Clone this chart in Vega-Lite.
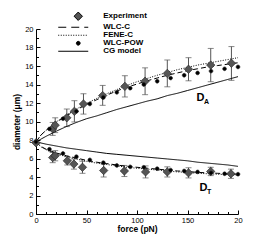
{
  "$schema": "https://vega.github.io/schema/vega-lite/v6.json",
  "width": 202,
  "height": 185,
  "autosize": {"type": "none"},
  "padding": {"left": 36, "top": 29, "right": 33, "bottom": 27},
  "background": "white",
  "config": {
    "view": {"stroke": null},
    "font": "Liberation Sans",
    "axis": {"grid": false, "domainColor": "black", "tickColor": "black", "labelColor": "black", "titleColor": "black", "labelFont": "Liberation Sans", "titleFont": "Liberation Sans"}
  },
  "resolve": {"axis": {"x": "independent", "y": "independent"}},
  "datasets": {
    "curves": [
      {"series": "WLC-C", "branch": "A", "f": 0, "d": 7.8},
      {"series": "WLC-C", "branch": "A", "f": 5, "d": 8.55},
      {"series": "WLC-C", "branch": "A", "f": 10, "d": 9.05},
      {"series": "WLC-C", "branch": "A", "f": 20, "d": 9.9},
      {"series": "WLC-C", "branch": "A", "f": 30, "d": 10.6},
      {"series": "WLC-C", "branch": "A", "f": 40, "d": 11.25},
      {"series": "WLC-C", "branch": "A", "f": 50, "d": 11.85},
      {"series": "WLC-C", "branch": "A", "f": 60, "d": 12.35},
      {"series": "WLC-C", "branch": "A", "f": 70, "d": 12.85},
      {"series": "WLC-C", "branch": "A", "f": 80, "d": 13.3},
      {"series": "WLC-C", "branch": "A", "f": 90, "d": 13.7},
      {"series": "WLC-C", "branch": "A", "f": 100, "d": 14.05},
      {"series": "WLC-C", "branch": "A", "f": 110, "d": 14.4},
      {"series": "WLC-C", "branch": "A", "f": 120, "d": 14.7},
      {"series": "WLC-C", "branch": "A", "f": 130, "d": 15.0},
      {"series": "WLC-C", "branch": "A", "f": 140, "d": 15.25},
      {"series": "WLC-C", "branch": "A", "f": 150, "d": 15.5},
      {"series": "WLC-C", "branch": "A", "f": 160, "d": 15.7},
      {"series": "WLC-C", "branch": "A", "f": 170, "d": 15.9},
      {"series": "WLC-C", "branch": "A", "f": 180, "d": 16.05},
      {"series": "WLC-C", "branch": "A", "f": 190, "d": 16.2},
      {"series": "WLC-C", "branch": "A", "f": 200, "d": 16.35},
      {"series": "FENE-C", "branch": "A", "f": 0, "d": 7.8},
      {"series": "FENE-C", "branch": "A", "f": 5, "d": 8.55},
      {"series": "FENE-C", "branch": "A", "f": 10, "d": 9.05},
      {"series": "FENE-C", "branch": "A", "f": 20, "d": 9.95},
      {"series": "FENE-C", "branch": "A", "f": 30, "d": 10.7},
      {"series": "FENE-C", "branch": "A", "f": 40, "d": 11.35},
      {"series": "FENE-C", "branch": "A", "f": 50, "d": 11.95},
      {"series": "FENE-C", "branch": "A", "f": 60, "d": 12.5},
      {"series": "FENE-C", "branch": "A", "f": 70, "d": 13.0},
      {"series": "FENE-C", "branch": "A", "f": 80, "d": 13.45},
      {"series": "FENE-C", "branch": "A", "f": 90, "d": 13.9},
      {"series": "FENE-C", "branch": "A", "f": 100, "d": 14.3},
      {"series": "FENE-C", "branch": "A", "f": 110, "d": 14.65},
      {"series": "FENE-C", "branch": "A", "f": 120, "d": 15.0},
      {"series": "FENE-C", "branch": "A", "f": 130, "d": 15.3},
      {"series": "FENE-C", "branch": "A", "f": 140, "d": 15.6},
      {"series": "FENE-C", "branch": "A", "f": 150, "d": 15.85},
      {"series": "FENE-C", "branch": "A", "f": 160, "d": 16.1},
      {"series": "FENE-C", "branch": "A", "f": 170, "d": 16.3},
      {"series": "FENE-C", "branch": "A", "f": 180, "d": 16.5},
      {"series": "FENE-C", "branch": "A", "f": 190, "d": 16.7},
      {"series": "FENE-C", "branch": "A", "f": 200, "d": 16.9},
      {"series": "CG model", "branch": "A", "f": 0, "d": 7.8},
      {"series": "CG model", "branch": "A", "f": 10, "d": 8.4},
      {"series": "CG model", "branch": "A", "f": 20, "d": 8.95},
      {"series": "CG model", "branch": "A", "f": 30, "d": 9.45},
      {"series": "CG model", "branch": "A", "f": 40, "d": 9.9},
      {"series": "CG model", "branch": "A", "f": 50, "d": 10.3},
      {"series": "CG model", "branch": "A", "f": 60, "d": 10.6},
      {"series": "CG model", "branch": "A", "f": 70, "d": 10.95},
      {"series": "CG model", "branch": "A", "f": 80, "d": 11.3},
      {"series": "CG model", "branch": "A", "f": 90, "d": 11.6},
      {"series": "CG model", "branch": "A", "f": 100, "d": 11.9},
      {"series": "CG model", "branch": "A", "f": 110, "d": 12.2},
      {"series": "CG model", "branch": "A", "f": 120, "d": 12.45},
      {"series": "CG model", "branch": "A", "f": 130, "d": 12.8},
      {"series": "CG model", "branch": "A", "f": 140, "d": 13.05},
      {"series": "CG model", "branch": "A", "f": 150, "d": 13.35},
      {"series": "CG model", "branch": "A", "f": 160, "d": 13.65},
      {"series": "CG model", "branch": "A", "f": 170, "d": 13.95},
      {"series": "CG model", "branch": "A", "f": 180, "d": 14.25},
      {"series": "CG model", "branch": "A", "f": 190, "d": 14.55},
      {"series": "CG model", "branch": "A", "f": 200, "d": 14.85},
      {"series": "WLC-C", "branch": "T", "f": 0, "d": 7.8},
      {"series": "WLC-C", "branch": "T", "f": 5, "d": 7.3},
      {"series": "WLC-C", "branch": "T", "f": 10, "d": 7.0},
      {"series": "WLC-C", "branch": "T", "f": 20, "d": 6.6},
      {"series": "WLC-C", "branch": "T", "f": 30, "d": 6.3},
      {"series": "WLC-C", "branch": "T", "f": 40, "d": 6.05},
      {"series": "WLC-C", "branch": "T", "f": 50, "d": 5.8},
      {"series": "WLC-C", "branch": "T", "f": 60, "d": 5.6},
      {"series": "WLC-C", "branch": "T", "f": 70, "d": 5.45},
      {"series": "WLC-C", "branch": "T", "f": 80, "d": 5.3},
      {"series": "WLC-C", "branch": "T", "f": 90, "d": 5.15},
      {"series": "WLC-C", "branch": "T", "f": 100, "d": 5.05},
      {"series": "WLC-C", "branch": "T", "f": 110, "d": 4.95},
      {"series": "WLC-C", "branch": "T", "f": 120, "d": 4.85},
      {"series": "WLC-C", "branch": "T", "f": 130, "d": 4.75},
      {"series": "WLC-C", "branch": "T", "f": 140, "d": 4.65},
      {"series": "WLC-C", "branch": "T", "f": 150, "d": 4.6},
      {"series": "WLC-C", "branch": "T", "f": 160, "d": 4.5},
      {"series": "WLC-C", "branch": "T", "f": 170, "d": 4.45},
      {"series": "WLC-C", "branch": "T", "f": 180, "d": 4.4},
      {"series": "WLC-C", "branch": "T", "f": 190, "d": 4.35},
      {"series": "WLC-C", "branch": "T", "f": 200, "d": 4.3},
      {"series": "FENE-C", "branch": "T", "f": 0, "d": 7.8},
      {"series": "FENE-C", "branch": "T", "f": 5, "d": 7.25},
      {"series": "FENE-C", "branch": "T", "f": 10, "d": 6.95},
      {"series": "FENE-C", "branch": "T", "f": 20, "d": 6.5},
      {"series": "FENE-C", "branch": "T", "f": 30, "d": 6.2},
      {"series": "FENE-C", "branch": "T", "f": 40, "d": 5.95},
      {"series": "FENE-C", "branch": "T", "f": 50, "d": 5.7},
      {"series": "FENE-C", "branch": "T", "f": 60, "d": 5.5},
      {"series": "FENE-C", "branch": "T", "f": 70, "d": 5.35},
      {"series": "FENE-C", "branch": "T", "f": 80, "d": 5.2},
      {"series": "FENE-C", "branch": "T", "f": 90, "d": 5.05},
      {"series": "FENE-C", "branch": "T", "f": 100, "d": 4.95},
      {"series": "FENE-C", "branch": "T", "f": 110, "d": 4.85},
      {"series": "FENE-C", "branch": "T", "f": 120, "d": 4.75},
      {"series": "FENE-C", "branch": "T", "f": 130, "d": 4.65},
      {"series": "FENE-C", "branch": "T", "f": 140, "d": 4.55},
      {"series": "FENE-C", "branch": "T", "f": 150, "d": 4.5},
      {"series": "FENE-C", "branch": "T", "f": 160, "d": 4.4},
      {"series": "FENE-C", "branch": "T", "f": 170, "d": 4.35},
      {"series": "FENE-C", "branch": "T", "f": 180, "d": 4.3},
      {"series": "FENE-C", "branch": "T", "f": 190, "d": 4.25},
      {"series": "FENE-C", "branch": "T", "f": 200, "d": 4.2},
      {"series": "CG model", "branch": "T", "f": 0, "d": 7.8},
      {"series": "CG model", "branch": "T", "f": 10, "d": 7.55},
      {"series": "CG model", "branch": "T", "f": 20, "d": 7.35},
      {"series": "CG model", "branch": "T", "f": 30, "d": 7.15},
      {"series": "CG model", "branch": "T", "f": 40, "d": 7.0},
      {"series": "CG model", "branch": "T", "f": 50, "d": 6.85},
      {"series": "CG model", "branch": "T", "f": 60, "d": 6.7},
      {"series": "CG model", "branch": "T", "f": 70, "d": 6.55},
      {"series": "CG model", "branch": "T", "f": 80, "d": 6.45},
      {"series": "CG model", "branch": "T", "f": 90, "d": 6.35},
      {"series": "CG model", "branch": "T", "f": 100, "d": 6.25},
      {"series": "CG model", "branch": "T", "f": 110, "d": 6.15},
      {"series": "CG model", "branch": "T", "f": 120, "d": 6.05},
      {"series": "CG model", "branch": "T", "f": 130, "d": 5.95},
      {"series": "CG model", "branch": "T", "f": 140, "d": 5.85},
      {"series": "CG model", "branch": "T", "f": 150, "d": 5.75},
      {"series": "CG model", "branch": "T", "f": 160, "d": 5.6},
      {"series": "CG model", "branch": "T", "f": 170, "d": 5.5},
      {"series": "CG model", "branch": "T", "f": 180, "d": 5.4},
      {"series": "CG model", "branch": "T", "f": 190, "d": 5.3},
      {"series": "CG model", "branch": "T", "f": 200, "d": 5.15}
    ],
    "points": [
      {"series": "Experiment", "f": 0, "d": 7.7},
      {"series": "Experiment", "f": 16.5, "d": 9.2, "lo": 8.5, "hi": 9.9},
      {"series": "Experiment", "f": 19, "d": 9.6, "lo": 8.8, "hi": 10.4},
      {"series": "Experiment", "f": 30.5, "d": 10.4, "lo": 9.45, "hi": 11.35},
      {"series": "Experiment", "f": 38, "d": 11.1, "lo": 9.95, "hi": 12.25},
      {"series": "Experiment", "f": 47, "d": 11.9, "lo": 10.8, "hi": 13.0},
      {"series": "Experiment", "f": 66, "d": 12.8, "lo": 11.75, "hi": 13.9},
      {"series": "Experiment", "f": 88, "d": 13.8, "lo": 12.65, "hi": 14.95},
      {"series": "Experiment", "f": 108, "d": 14.35, "lo": 12.9, "hi": 15.8},
      {"series": "Experiment", "f": 130, "d": 15.2, "lo": 13.75, "hi": 16.65},
      {"series": "Experiment", "f": 151, "d": 15.65, "lo": 14.4, "hi": 16.9},
      {"series": "Experiment", "f": 173, "d": 16.1, "lo": 14.3, "hi": 17.9},
      {"series": "Experiment", "f": 193.5, "d": 16.3, "lo": 14.45, "hi": 18.1},
      {"series": "Experiment", "f": 16.5, "d": 6.1, "lo": 5.55, "hi": 6.65},
      {"series": "Experiment", "f": 19, "d": 6.3, "lo": 5.75, "hi": 6.85},
      {"series": "Experiment", "f": 31, "d": 5.75, "lo": 5.3, "hi": 6.2},
      {"series": "Experiment", "f": 37.5, "d": 5.4, "lo": 4.85, "hi": 5.95},
      {"series": "Experiment", "f": 46, "d": 5.05, "lo": 4.4, "hi": 5.7},
      {"series": "Experiment", "f": 67, "d": 4.7, "lo": 4.0, "hi": 5.4},
      {"series": "Experiment", "f": 87.5, "d": 4.65, "lo": 4.05, "hi": 5.25},
      {"series": "Experiment", "f": 108.5, "d": 4.55, "lo": 3.9, "hi": 5.2},
      {"series": "Experiment", "f": 130, "d": 4.55, "lo": 4.0, "hi": 5.1},
      {"series": "Experiment", "f": 151, "d": 4.45, "lo": 3.9, "hi": 5.0},
      {"series": "Experiment", "f": 173, "d": 4.6, "lo": 4.15, "hi": 5.05},
      {"series": "Experiment", "f": 193, "d": 4.35, "lo": 3.85, "hi": 4.85},
      {"series": "WLC-POW", "f": 0, "d": 7.8},
      {"series": "WLC-POW", "f": 13.3, "d": 9.2},
      {"series": "WLC-POW", "f": 26.7, "d": 10.3},
      {"series": "WLC-POW", "f": 40, "d": 11.1},
      {"series": "WLC-POW", "f": 53.3, "d": 11.9},
      {"series": "WLC-POW", "f": 66.7, "d": 12.6},
      {"series": "WLC-POW", "f": 80, "d": 13.15},
      {"series": "WLC-POW", "f": 93.3, "d": 13.6},
      {"series": "WLC-POW", "f": 106.7, "d": 14.0},
      {"series": "WLC-POW", "f": 120, "d": 14.35},
      {"series": "WLC-POW", "f": 133.3, "d": 14.7},
      {"series": "WLC-POW", "f": 146.7, "d": 15.0},
      {"series": "WLC-POW", "f": 160, "d": 15.25},
      {"series": "WLC-POW", "f": 173.3, "d": 15.45},
      {"series": "WLC-POW", "f": 186.7, "d": 15.7},
      {"series": "WLC-POW", "f": 200, "d": 15.9},
      {"series": "WLC-POW", "f": 13.3, "d": 7.0},
      {"series": "WLC-POW", "f": 26.7, "d": 6.55},
      {"series": "WLC-POW", "f": 40, "d": 6.2},
      {"series": "WLC-POW", "f": 53.3, "d": 5.85},
      {"series": "WLC-POW", "f": 66.7, "d": 5.55},
      {"series": "WLC-POW", "f": 80, "d": 5.25},
      {"series": "WLC-POW", "f": 93.3, "d": 5.1},
      {"series": "WLC-POW", "f": 106.7, "d": 5.05},
      {"series": "WLC-POW", "f": 120, "d": 4.9},
      {"series": "WLC-POW", "f": 133.3, "d": 4.75},
      {"series": "WLC-POW", "f": 146.7, "d": 4.65},
      {"series": "WLC-POW", "f": 160, "d": 4.55},
      {"series": "WLC-POW", "f": 173.3, "d": 4.45},
      {"series": "WLC-POW", "f": 186.7, "d": 4.35},
      {"series": "WLC-POW", "f": 200, "d": 4.3}
    ],
    "labels": [
      {"f": 159, "d": 12.5, "main": "D", "sub": "A"},
      {"f": 162, "d": 2.85, "main": "D", "sub": "T"}
    ]
  },
  "layer": [
    {
      "data": {"name": "points"},
      "transform": [{"filter": "datum.lo != null"}],
      "mark": {"type": "errorbar", "ticks": {"size": 6, "color": "#555555", "thickness": 1}, "color": "#555555", "thickness": 1},
      "encoding": {
        "x": {"field": "f", "type": "quantitative", "scale": {"domain": [0, 200], "nice": false},
          "axis": {"orient": "bottom", "values": [0, 50, 100, 150, 200], "labelExpr": "datum.value === 200 ? '20' : datum.label", "tickSize": -4, "labelPadding": 6, "labelFontSize": 7.5, "title": "force (pN)", "titleFontSize": 8.5, "titleFontWeight": "bold", "titlePadding": 1, "labelFlush": false}},
        "y": {"field": "lo", "type": "quantitative", "scale": {"domain": [0, 20], "nice": false},
          "axis": {"orient": "left", "values": [0, 2, 4, 6, 8, 10, 12, 14, 16, 18, 20], "tickSize": -4, "labelPadding": 7, "labelFontSize": 7.5, "title": "diameter (μm)", "titleFontSize": 8.5, "titleFontWeight": "bold", "titlePadding": 3}},
        "y2": {"field": "hi"}
      }
    },
    {
      "data": {"name": "curves"},
      "mark": {"type": "line", "color": "black", "strokeWidth": 1},
      "encoding": {
        "x": {"field": "f", "type": "quantitative", "axis": {"orient": "bottom", "values": [0, 10, 20, 30, 40, 60, 70, 80, 90, 110, 120, 130, 140, 160, 170, 180, 190], "tickSize": -2.5, "labels": false, "domain": false, "title": null}},
        "y": {"field": "d", "type": "quantitative", "axis": {"orient": "left", "values": [1, 3, 5, 7, 9, 11, 13, 15, 17, 19], "tickSize": -2.5, "labels": false, "domain": false, "title": null}},
        "detail": {"field": "branch"},
        "strokeDash": {"field": "series", "type": "nominal", "scale": {"domain": ["WLC-C", "FENE-C", "CG model"], "range": [[5, 3], [1, 1.5], [1, 0]]}, "legend": null}
      }
    },
    {
      "data": {"name": "points"},
      "mark": {"type": "point", "filled": true, "size": 36, "stroke": "#222222", "strokeWidth": 0.6, "opacity": 1},
      "encoding": {
        "x": {"field": "f", "type": "quantitative", "axis": null},
        "y": {"field": "d", "type": "quantitative", "axis": null},
        "shape": {"field": "series", "type": "nominal",
          "scale": {"domain": ["Experiment", "WLC-C", "FENE-C", "WLC-POW", "CG model"],
            "range": ["M0,-1.4L1.4,0L0,1.4L-1.4,0Z", "M-6.67,0L-4,0M-2.33,0L0.33,0M2,0L3.33,0", "M-6.67,0h0.33M-5.83,0h0.33M-5,0h0.33M-4.17,0h0.33M-3.33,0h0.33M-2.5,0h0.33M-1.67,0h0.33M-0.83,0h0.33M0,0h0.33M0.83,0h0.33M1.67,0h0.33M2.5,0h0.33", "M-0.63,0A0.63,0.63,0,1,0,0.63,0A0.63,0.63,0,1,0,-0.63,0Z", "M-6.67,0L3.33,0"]},
          "legend": {"orient": "none", "legendX": 38.25, "legendY": -16.75, "title": null, "symbolSize": 36, "symbolStrokeColor": "black", "symbolStrokeWidth": 1, "labelFontSize": 8, "labelFontWeight": "bold", "labelFont": "Liberation Sans", "labelColor": "black", "labelOffset": 21, "rowPadding": -2.1, "padding": 0, "labelLimit": 0}},
        "color": {"field": "series", "type": "nominal",
          "scale": {"domain": ["Experiment", "WLC-C", "FENE-C", "WLC-POW", "CG model"], "range": ["#555555", "black", "black", "black", "black"]},
          "legend": {"orient": "none", "legendX": 38.25, "legendY": -16.75, "title": null, "symbolSize": 36, "symbolStrokeColor": "black", "symbolStrokeWidth": 1, "labelFontSize": 8, "labelFontWeight": "bold", "labelFont": "Liberation Sans", "labelColor": "black", "labelOffset": 21, "rowPadding": -2.1, "padding": 0, "labelLimit": 0}}
      }
    },
    {
      "data": {"name": "labels"},
      "mark": {"type": "text", "align": "left", "baseline": "middle", "fontSize": 11, "fontWeight": "bold", "font": "Liberation Sans", "color": "black"},
      "encoding": {
        "x": {"field": "f", "type": "quantitative", "axis": null},
        "y": {"field": "d", "type": "quantitative", "axis": null},
        "text": {"field": "main"}
      }
    },
    {
      "data": {"name": "labels"},
      "mark": {"type": "text", "align": "left", "baseline": "middle", "fontSize": 7, "fontWeight": "bold", "font": "Liberation Sans", "color": "black", "dx": 7.5, "dy": 4},
      "encoding": {
        "x": {"field": "f", "type": "quantitative", "axis": null},
        "y": {"field": "d", "type": "quantitative", "axis": null},
        "text": {"field": "sub"}
      }
    }
  ]
}
